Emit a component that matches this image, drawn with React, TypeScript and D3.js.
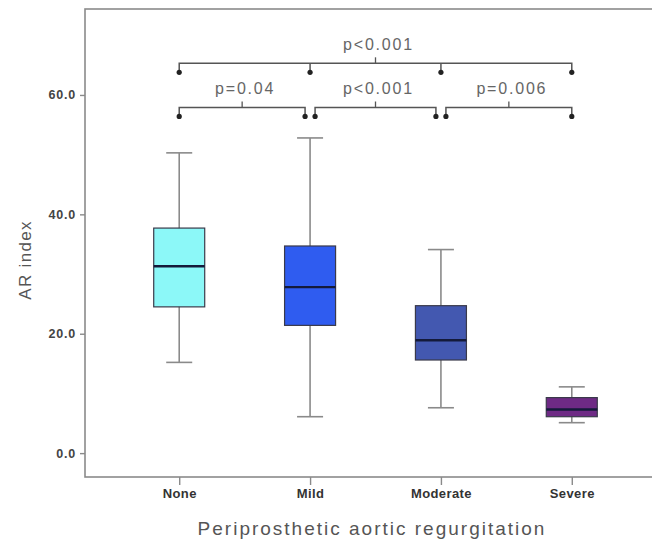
import React, { useEffect, useRef } from 'react';
import * as d3 from 'd3';

const categories = ['None', 'Mild', 'Moderate', 'Severe'];
const whiskerLow = [15.2, 6.1, 7.6, 5.1];
const q1 = [24.5, 21.4, 15.6, 6.1];
const median = [31.3, 27.8, 18.9, 7.3];
const q3 = [37.7, 34.7, 24.7, 9.3];
const whiskerHigh = [50.3, 52.8, 34.1, 11.1];
const boxColors = ['#8cf8f8', '#2f5cf0', '#4358b0', '#6e2a85'];

const yTicks = [0, 20, 40, 60];

// brackets: [from, to, label, level]
const brackets: [number, number, string, number][] = [
  [0, 1, 'p=0.04', 57.9],
  [1, 2, 'p<0.001', 57.9],
  [2, 3, 'p=0.006', 57.9],
  [0, 3, 'p<0.001', 65.3],
];

const App: React.FC = () => {
  const svgRef = useRef<SVGSVGElement>(null);

  useEffect(() => {
    if (!svgRef.current) return;
    const svg = d3.select(svgRef.current);
    svg.selectAll('*').remove();

    const frame = { left: 85, right: 666, top: 9, bottom: 477 };

    const x = d3
      .scalePoint<string>()
      .domain(categories)
      .range([frame.left, frame.right])
      .padding(0.72);

    const y = d3.scaleLinear().domain([-4, 74.4]).range([frame.bottom, frame.top]);

    const axisColor = '#8a8a8a';
    const font = '"Liberation Sans", Arial, sans-serif';

    // Frame
    svg
      .append('rect')
      .attr('x', frame.left)
      .attr('y', frame.top)
      .attr('width', frame.right - frame.left)
      .attr('height', frame.bottom - frame.top)
      .attr('fill', 'none')
      .attr('stroke', axisColor)
      .attr('stroke-width', 1.6);

    // Y axis
    const yAxis = svg
      .append('g')
      .attr('transform', `translate(${frame.left},0)`)
      .call(
        d3
          .axisLeft(y)
          .tickValues(yTicks)
          .tickSize(5)
          .tickPadding(4)
          .tickFormat(d => d3.format('.1f')(d as number))
      );
    yAxis.select('.domain').remove();
    yAxis.selectAll('line').attr('stroke', axisColor).attr('stroke-width', 1.4);
    yAxis
      .selectAll('text')
      .attr('fill', '#444')
      .attr('font-family', font)
      .attr('font-weight', 'bold')
      .attr('font-size', '12.5px')
      .attr('letter-spacing', '0.8px');

    // X axis
    const xAxis = svg
      .append('g')
      .attr('transform', `translate(0,${frame.bottom})`)
      .call(d3.axisBottom(x).tickSize(8).tickPadding(4));
    xAxis.select('.domain').remove();
    xAxis.selectAll('line').attr('stroke', axisColor).attr('stroke-width', 1.4);
    xAxis
      .selectAll('text')
      .attr('fill', '#333')
      .attr('font-family', font)
      .attr('font-weight', 'bold')
      .attr('font-size', '13px')
      .attr('letter-spacing', '0.4px');

    // Axis titles
    svg
      .append('text')
      .attr('x', 372)
      .attr('y', 535)
      .attr('text-anchor', 'middle')
      .attr('font-family', font)
      .attr('font-size', '19px')
      .attr('letter-spacing', '2px')
      .attr('fill', '#555')
      .text('Periprosthetic aortic regurgitation');

    svg
      .append('text')
      .attr('transform', 'translate(31,260) rotate(-90)')
      .attr('text-anchor', 'middle')
      .attr('font-family', font)
      .attr('font-size', '17px')
      .attr('letter-spacing', '1.3px')
      .attr('fill', '#555')
      .text('AR index');

    const boxW = 51;
    const capW = 26;

    categories.forEach((c, i) => {
      const cx = x(c) as number;
      const g = svg.append('g');
      // whisker
      g.append('line')
        .attr('x1', cx)
        .attr('x2', cx)
        .attr('y1', y(whiskerHigh[i]))
        .attr('y2', y(whiskerLow[i]))
        .attr('stroke', axisColor)
        .attr('stroke-width', 1.6);
      [whiskerHigh[i], whiskerLow[i]].forEach(v => {
        g.append('line')
          .attr('x1', cx - capW / 2)
          .attr('x2', cx + capW / 2)
          .attr('y1', y(v))
          .attr('y2', y(v))
          .attr('stroke', axisColor)
          .attr('stroke-width', 1.6);
      });
      // box
      g.append('rect')
        .attr('x', cx - boxW / 2)
        .attr('y', y(q3[i]))
        .attr('width', boxW)
        .attr('height', y(q1[i]) - y(q3[i]))
        .attr('fill', boxColors[i])
        .attr('stroke', '#3a3a4a')
        .attr('stroke-width', 1.2);
      // median
      g.append('line')
        .attr('x1', cx - boxW / 2)
        .attr('x2', cx + boxW / 2)
        .attr('y1', y(median[i]))
        .attr('y2', y(median[i]))
        .attr('stroke', '#141a3a')
        .attr('stroke-width', 2.4);
    });

    // Significance brackets
    const drop = 1.5;
    const bColor = '#555';
    brackets.forEach(([a, b, label, level]) => {
      const adjacent = b - a === 1;
      const xa = (x(categories[a]) as number) + (adjacent && a > 0 ? 5 : 0);
      const xb = (x(categories[b]) as number) - (adjacent && b < 3 ? 5 : 0);
      const ly = y(level);
      const dy = y(level - drop);
      const g = svg.append('g');
      g.append('path')
        .attr('d', `M${xa},${dy}V${ly}H${xb}V${dy}`)
        .attr('fill', 'none')
        .attr('stroke', bColor)
        .attr('stroke-width', 1.5);
      const mid = (xa + xb) / 2;
      g.append('line')
        .attr('x1', mid)
        .attr('x2', mid)
        .attr('y1', ly)
        .attr('y2', ly - 6)
        .attr('stroke', bColor)
        .attr('stroke-width', 1.3);
      const dots = adjacent ? [xa, xb] : d3.range(a, b + 1).map(k => x(categories[k]) as number);
      if (!adjacent) {
        dots.slice(1, -1).forEach(dx => {
          g.append('line')
            .attr('x1', dx)
            .attr('x2', dx)
            .attr('y1', ly)
            .attr('y2', dy)
            .attr('stroke', bColor)
            .attr('stroke-width', 1.5);
        });
      }
      dots.forEach(dx => {
        g.append('circle').attr('cx', dx).attr('cy', dy).attr('r', 2.6).attr('fill', '#222');
      });
      g.append('text')
        .attr('x', mid + 3)
        .attr('y', ly - 13)
        .attr('text-anchor', 'middle')
        .attr('font-family', font)
        .attr('font-size', '16px')
        .attr('letter-spacing', '1.8px')
        .attr('fill', '#666')
        .text(label);
    });
  }, []);

  return (
    <div style={{ position: 'fixed', left: 0, top: 0, width: 652, height: 541, background: '#fff' }}>
      <svg ref={svgRef} width={652} height={541} style={{ display: 'block' }}></svg>
    </div>
  );
};

export default App;
